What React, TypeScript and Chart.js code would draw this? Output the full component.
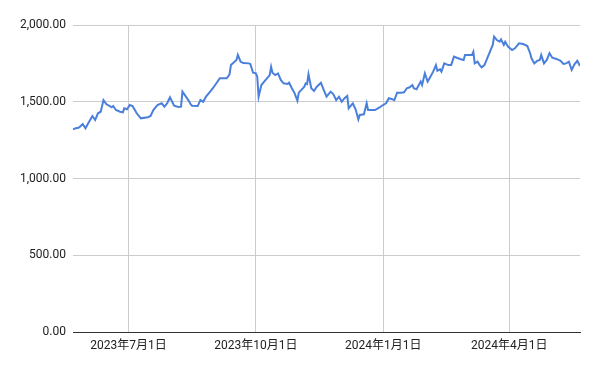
import React, { useEffect, useRef } from "react";
import { Chart, registerables } from "chart.js";

Chart.register(...registerables);

const dates: string[] = [
  "2023-05-22","2023-05-24","2023-05-26","2023-05-27","2023-05-29","2023-05-31","2023-06-02","2023-06-05","2023-06-07","2023-06-09",
  "2023-06-11","2023-06-13","2023-06-15","2023-06-19","2023-06-20","2023-06-22","2023-06-25","2023-06-27","2023-06-28","2023-06-30",
  "2023-07-02","2023-07-04","2023-07-07","2023-07-10","2023-07-15","2023-07-17","2023-07-19","2023-07-21","2023-07-22","2023-07-25",
  "2023-07-27","2023-07-29","2023-07-31","2023-08-03","2023-08-06","2023-08-08","2023-08-09","2023-08-12","2023-08-14","2023-08-15",
  "2023-08-16","2023-08-20","2023-08-22","2023-08-24","2023-08-26","2023-08-28","2023-08-31","2023-09-02","2023-09-05","2023-09-07",
  "2023-09-10","2023-09-12","2023-09-13","2023-09-17","2023-09-18","2023-09-20","2023-09-22","2023-09-26","2023-09-27","2023-09-29",
  "2023-10-01","2023-10-02","2023-10-03","2023-10-05","2023-10-07","2023-10-11","2023-10-12","2023-10-13","2023-10-15","2023-10-17",
  "2023-10-19","2023-10-21","2023-10-24","2023-10-25","2023-10-27","2023-10-29","2023-10-31","2023-11-01","2023-11-05","2023-11-06",
  "2023-11-07","2023-11-08","2023-11-10","2023-11-12","2023-11-14","2023-11-17","2023-11-19","2023-11-21","2023-11-24","2023-11-26",
  "2023-11-28","2023-11-30","2023-12-02","2023-12-04","2023-12-06","2023-12-07","2023-12-10","2023-12-12","2023-12-14","2023-12-15",
  "2023-12-18","2023-12-20","2023-12-21","2023-12-24","2023-12-26","2023-12-29","2023-12-31","2024-01-03","2024-01-05","2024-01-07",
  "2024-01-09","2024-01-11","2024-01-14","2024-01-16","2024-01-18","2024-01-20","2024-01-22","2024-01-23","2024-01-25","2024-01-28",
  "2024-01-29","2024-01-31","2024-02-02","2024-02-04","2024-02-06","2024-02-08","2024-02-09","2024-02-11","2024-02-12","2024-02-14",
  "2024-02-17","2024-02-19","2024-02-21","2024-02-23","2024-02-26","2024-02-28","2024-02-29","2024-03-03","2024-03-05","2024-03-06",
  "2024-03-07","2024-03-09","2024-03-11","2024-03-12","2024-03-14","2024-03-16","2024-03-18","2024-03-20","2024-03-21","2024-03-23",
  "2024-03-25","2024-03-26","2024-03-28","2024-03-29","2024-03-31","2024-04-03","2024-04-05","2024-04-08","2024-04-11","2024-04-14",
  "2024-04-16","2024-04-17","2024-04-19","2024-04-21","2024-04-23","2024-04-24","2024-04-26","2024-04-28","2024-04-30","2024-05-02",
  "2024-05-05","2024-05-08","2024-05-10","2024-05-12","2024-05-14","2024-05-16","2024-05-18","2024-05-20","2024-05-22",
];

const values: number[] = [
  1321,1327,1331,1337,1355,1327,1360,1407,1381,1425,
  1435,1511,1485,1464,1472,1446,1435,1431,1457,1451,
  1479,1472,1425,1392,1399,1407,1446,1468,1479,1490,
  1468,1490,1529,1474,1466,1468,1566,1527,1500,1483,
  1474,1472,1511,1500,1533,1555,1588,1614,1653,1653,
  1653,1679,1739,1772,1805,1761,1752,1750,1746,1689,
  1685,1663,1533,1609,1631,1674,1728,1689,1674,1685,
  1642,1620,1616,1624,1588,1555,1507,1559,1598,1620,
  1616,1679,1588,1570,1598,1624,1577,1533,1566,1549,
  1511,1533,1500,1523,1538,1457,1490,1451,1385,1414,
  1418,1490,1446,1446,1446,1461,1474,1490,1523,1518,
  1511,1559,1559,1562,1588,1594,1609,1588,1581,1631,
  1609,1685,1631,1663,1696,1739,1702,1711,1696,1750,
  1739,1739,1794,1787,1777,1772,1805,1805,1805,1826,
  1750,1761,1733,1724,1739,1783,1826,1870,1924,1902,
  1891,1907,1870,1891,1859,1837,1848,1881,1876,1863,
  1816,1783,1750,1766,1772,1805,1750,1772,1816,1787,
  1779,1767,1746,1750,1761,1707,1744,1767,1733,
];

const xTickDates: string[] = ["2023-07-01", "2023-10-01", "2024-01-01", "2024-04-01"];
const yTicks: number[] = [0, 500, 1000, 1500, 2000];

const toMs = (s: string) => {
  const [y, m, d] = s.split("-").map(Number);
  return Date.UTC(y, m - 1, d);
};

const fmtDate = (ms: number) => {
  const dt = new Date(ms);
  return `${dt.getUTCFullYear()}年${dt.getUTCMonth() + 1}月${dt.getUTCDate()}日`;
};

const fmtNum = (v: number) =>
  v.toLocaleString("en-US", { minimumFractionDigits: 2, maximumFractionDigits: 2 });

const FONT = "Roboto, 'Noto Sans CJK JP', sans-serif";

export default function App() {
  const ref = useRef<HTMLCanvasElement | null>(null);

  useEffect(() => {
    if (!ref.current) return;
    const pts = dates.map((d, i) => ({ x: toMs(d), y: values[i] }));
    const xt = xTickDates.map(toMs);
    const chart = new Chart(ref.current, {
      type: "line",
      data: {
        datasets: [
          {
            data: pts,
            borderColor: "#4a7fdc",
            borderWidth: 2,
            pointRadius: 0,
            tension: 0,
            fill: false,
          },
        ],
      },
      options: {
        animation: false,
        responsive: false,
        maintainAspectRatio: false,
        layout: { padding: { top: 25, right: 20, left: 0, bottom: 0 } },
        plugins: { legend: { display: false }, tooltip: { enabled: false } },
        scales: {
          x: {
            type: "linear",
            min: pts[0].x,
            max: pts[pts.length - 1].x,
            afterBuildTicks: (scale: any) => {
              scale.ticks = xt.map((v) => ({ value: v }));
            },
            afterFit: (scale: any) => {
              scale.height = 39;
            },
            grid: { color: "#cccccc", drawTicks: false, lineWidth: 1 },
            border: { display: true, color: "#333333", width: 1 },
            ticks: {
              padding: 7,
              maxRotation: 0,
              autoSkip: false,
              color: "#222222",
              font: { family: FONT, size: 12 },
              callback: (v: any) => fmtDate(Number(v)),
            },
          },
          y: {
            min: 0,
            max: 2000,
            afterBuildTicks: (scale: any) => {
              scale.ticks = yTicks.map((v) => ({ value: v }));
            },
            afterFit: (scale: any) => {
              scale.width = 73;
            },
            grid: {
              color: (ctx: any) => (ctx.tick && ctx.tick.value === 0 ? "#333333" : "#cccccc"),
              drawTicks: false,
            },
            border: { display: false },
            ticks: {
              padding: 7,
              color: "#222222",
              font: { family: FONT, size: 12 },
              callback: (v: any) => fmtNum(Number(v)),
            },
          },
        },
      },
    });
    return () => chart.destroy();
  }, []);

  return (
    <div style={{ position: "absolute", left: 0, top: 0, width: 600, height: 371, background: "#fff" }}>
      <canvas ref={ref} width={600} height={371} style={{ width: 600, height: 371 }} />
    </div>
  );
}
